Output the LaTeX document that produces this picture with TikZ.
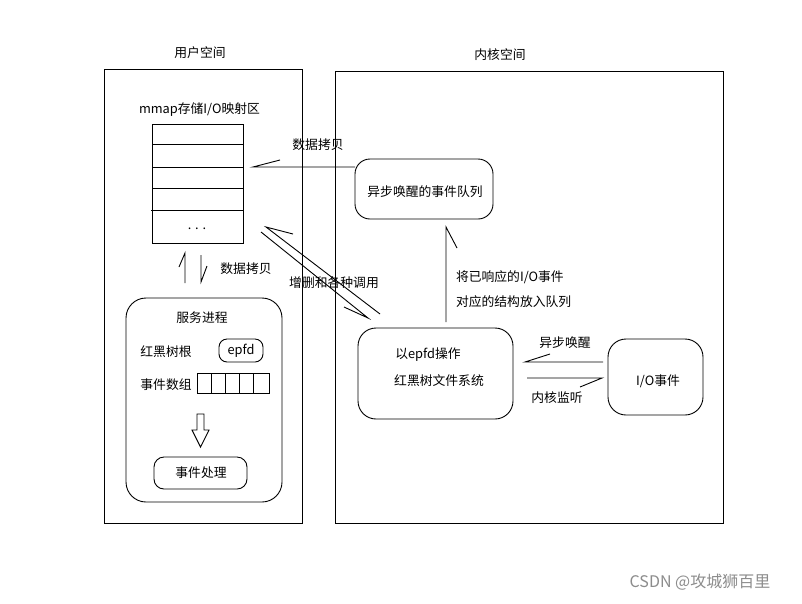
\documentclass[tikz,border=0pt]{standalone}
\usepackage{fontspec}
\setmainfont{Noto Sans CJK SC}
\usetikzlibrary{calc}
\begin{document}
\begin{tikzpicture}[x=1pt,y=-1pt, line width=0.9pt,
  every node/.style={font=\fontsize{12.8}{15}\selectfont, inner sep=0pt, outer sep=0pt},
  frame/.style={draw, rectangle},
  rbox/.style={draw, rectangle, rounded corners=#1},
  conn/.style={draw, line join=miter},
  lbl/.style={anchor=center}]
\useasboundingbox (0,0) rectangle (802,603);
\fill[white] (0,0) rectangle (802,603);
% titles
\node[lbl] (tuser) at (200,53) {用户空间};
\node[lbl] (tkern) at (500,55) {内核空间};
% frames
\node[frame, minimum width=198pt, minimum height=454pt] (user) at (203,296) {};
\node[frame, minimum width=388pt, minimum height=452pt] (kernel) at (529,297) {};
% mmap table
\node[lbl] (tmmap) at (199.5,110) {mmap存储I/O映射区};
\node[frame, minimum width=91pt, minimum height=119pt] (tbl) at (197.5,183.5) {};
\draw (tbl.west |- 0,144) -- (tbl.east |- 0,144);
\draw (tbl.west |- 0,167) -- (tbl.east |- 0,167);
\draw (tbl.west |- 0,188) -- (tbl.east |- 0,188);
\draw (151,210) -- (tbl.east |- 0,210);
\node[lbl] (dots) at (197,229) {. . .};
% queue
\node[rbox=15pt, minimum width=138pt, minimum height=60pt] (queue) at (424,189) {};
\node[lbl] (tqueue) at (425,192) {异步唤醒的事件队列};
% service process
\node[rbox=20pt, minimum width=156pt, minimum height=204pt] (svc) at (204,400) {};
\node[lbl] (tsvc) at (202,318) {服务进程};
\node[lbl] (troot) at (166,352) {红黑树根};
\node[rbox=8pt, minimum width=44pt, minimum height=23pt] (root) at (241,350.5) {};
\node[lbl] (tepfd) at (241,351) {epfd};
\node[lbl] (tarr) at (166,385) {事件数组};
\node[frame, minimum width=72pt, minimum height=20pt] (arr) at (233,383) {};
\foreach \xx in {211,225,239,253} \draw (\xx,373) -- (\xx,393);
\draw (197,414) -- (204,414) -- (204,430) -- (209,430) -- (200.5,447) -- (192,430) -- (197,430) -- cycle;
\node[rbox=10pt, minimum width=93pt, minimum height=32pt] (proc) at (200.5,473) {};
\node[lbl] (tproc) at (201,473) {事件处理};
% epfd ops
\node[rbox=18pt, minimum width=155pt, minimum height=91pt] (ops) at (435.5,373.5) {};
\node[lbl] (tops1) at (428,355) {以epfd操作};
\node[lbl] (tops2) at (439,381) {红黑树文件系统};
% io event
\node[rbox=18pt, minimum width=95pt, minimum height=76pt] (io) at (655.5,377) {};
\node[lbl] (tio) at (658,381) {I/O事件};
% connectors (line + single barb)
\coordinate (c1) at (253,167);
\path[conn] (queue.west |- c1) -- (c1) -- ++(27,-7);
\node[lbl] (tcopy1) at (318,145) {数据拷贝};
\coordinate (d1a) at (380,314); \coordinate (d1b) at (266,227);
\path[conn] (d1a) -- (d1b) -- ++(27,7);
\coordinate (d2a) at (261,232); \coordinate (d2b) at (368,318);
\path[conn] (d2a) -- (d2b) -- ++(-24,-11);
\node[lbl] (tcall) at (334,283) {增删和各种调用};
\coordinate (u1a) at (185,283); \coordinate (u1b) at (185,253);
\path[conn] (u1a) -- (u1b) -- ++(-6,14);
\coordinate (u2a) at (201,255); \coordinate (u2b) at (201,282);
\path[conn] (u2a) -- (u2b) -- ++(6,-16);
\node[lbl] (tcopy2) at (246,269) {数据拷贝};
\coordinate (v1) at (446,322); \coordinate (v2) at (446,227);
\path[conn] (v1) -- (v2) -- ++(11,21);
\node[anchor=west] (tput1) at (456,277) {将已响应的I/O事件};
\node[anchor=west] (tput2) at (456,302) {对应的结构放入队列};
\coordinate (w1) at (603,362); \coordinate (w2) at (525,362);
\path[conn] (w1) -- (w2) -- ++(25,-8);
\node[lbl] (twake) at (565,343) {异步唤醒};
\coordinate (k1) at (527,378); \coordinate (k2) at (602,378);
\path[conn] (k1) -- (k2) -- ++(-22,9);
\node[lbl] (tlisten) at (557,398) {内核监听};
% watermark
\node[lbl, text=black!45, font=\fontsize{16}{18}\selectfont] (wm) at (700,582) {CSDN @攻城狮百里};
\end{tikzpicture}
\end{document}
